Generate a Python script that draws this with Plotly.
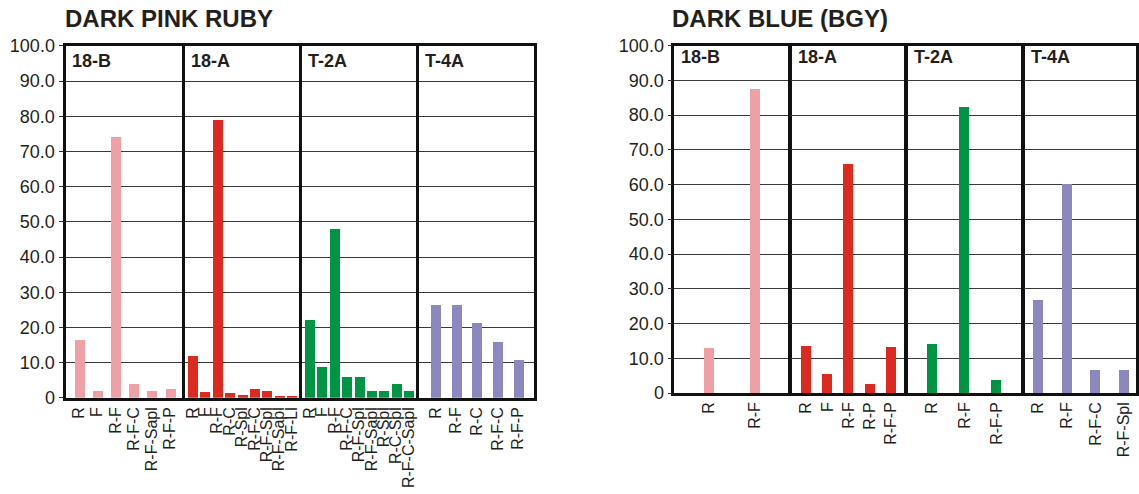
import plotly.graph_objects as go

W, H = 1139, 494

# ---------------- DATA ----------------
panel_names = ["18-B", "18-A", "T-2A", "T-4A"]
y_tick_vals = [0, 10, 20, 30, 40, 50, 60, 70, 80, 90, 100]
y_tick_text = ["0", "10.0", "20.0", "30.0", "40.0", "50.0", "60.0", "70.0", "80.0", "90.0", "100.0"]

# Left chart: DARK PINK RUBY
ruby_18B_cats = ["R", "F", "R-F", "R-F-C", "R-F-Sapl", "R-F-P"]
ruby_18B_vals = [16.5, 2.1, 74.1, 4.0, 2.1, 2.5]
ruby_18A_cats = ["R", "F", "R-F", "R-C", "R-Spl", "R-F-C", "R-F-Spl", "R-F-Sapl", "R-F-Ll"]
ruby_18A_vals = [11.9, 1.7, 79.0, 1.3, 0.9, 2.5, 1.9, 0.6, 0.6]
ruby_T2A_cats = ["R", "F", "R-F", "R-F-C", "R-F-Spl", "R-F-Sapl", "R-Spl", "R-C-Spl", "R-F-C-Sapl"]
ruby_T2A_vals = [22.3, 8.8, 48.0, 6.1, 6.1, 2.0, 2.0, 4.0, 2.0]
ruby_T4A_cats = ["R", "R-F", "R-C", "R-F-C", "R-F-P"]
ruby_T4A_vals = [26.5, 26.5, 21.4, 16.0, 10.7]

# Right chart: DARK BLUE (BGY)
blue_18B_cats = ["R", "R-F"]
blue_18B_vals = [13.1, 87.5]
blue_18A_cats = ["R", "F", "R-F", "R-P", "R-F-P"]
blue_18A_vals = [13.6, 5.5, 66.0, 2.7, 13.3]
blue_T2A_cats = ["R", "R-F", "R-F-P"]
blue_T2A_vals = [14.3, 82.5, 3.8]
blue_T4A_cats = ["R", "R-F", "R-F-C", "R-F-Spl"]
blue_T4A_vals = [26.8, 60.4, 6.7, 6.7]

# ---------------- STYLE / LAYOUT ----------------
panel_colors = ["#EF9FA6", "#DC2A21", "#009445", "#8D87BF"]
FONT = "Liberation Sans, Arial, Helvetica, sans-serif"

charts = [
    dict(
        title="DARK PINK RUBY", title_px=(63, 19),
        edges=[64, 183, 300, 417, 535], top=44.3, bottom=399.3, border=3,
        pads=[(0.74, 0.62), (0.63, 0.55), (0.65, 0.55), (0.83, 0.75)],
        label_y=61,
        data=[(ruby_18B_cats, ruby_18B_vals), (ruby_18A_cats, ruby_18A_vals),
              (ruby_T2A_cats, ruby_T2A_vals), (ruby_T4A_cats, ruby_T4A_vals)],
    ),
    dict(
        title="DARK BLUE (BGY)", title_px=(670, 18),
        edges=[673, 790, 906, 1023, 1137], top=44.3, bottom=394.3, border=2.6,
        pads=[(0.76, 0.73), (0.69, 0.63), (0.78, 0.79), (0.49, 0.41)],
        label_y=57,
        data=[(blue_18B_cats, blue_18B_vals), (blue_18A_cats, blue_18A_vals),
              (blue_T2A_cats, blue_T2A_vals), (blue_T4A_cats, blue_T4A_vals)],
    ),
]

BAR_PX = 10

fig = go.Figure()
layout = dict(
    width=W, height=H, autosize=False,
    margin=dict(l=0, r=0, t=0, b=0, autoexpand=False),
    paper_bgcolor="white", plot_bgcolor="white",
    showlegend=False, bargap=0,
    font=dict(family=FONT, color="#231F20"),
)
annotations = []

k = 0
for chart in charts:
    edges = chart["edges"]
    b = chart["border"]
    # axis lines are drawn just outside the domain; inset by half line width
    ydom = [1 - (chart["bottom"] - b / 2) / H, 1 - (chart["top"] + b / 2) / H]
    for p in range(4):
        k += 1
        sfx = "" if k == 1 else str(k)
        cats, vals = chart["data"][p]
        n = len(cats)
        padL, padR = chart["pads"][p]
        x0 = edges[p] + b / 2
        x1 = edges[p + 1] - b / 2
        rng = [-padL, n - 1 + padR]
        unit_px = (x1 - x0) / (rng[1] - rng[0])
        fig.add_trace(go.Bar(
            x=cats, y=vals,
            marker=dict(color=panel_colors[p], line=dict(width=0)),
            width=BAR_PX / unit_px,
            xaxis="x" + sfx, yaxis="y" + sfx,
            hoverinfo="x+y",
        ))
        first = (p == 0)
        layout["xaxis" + sfx] = dict(
            domain=[x0 / W, x1 / W],
            anchor="y" + sfx, type="category", range=rng, automargin=False,
            tickmode="array", tickvals=cats, ticktext=cats,
            showline=True, mirror=True, linecolor="#111", linewidth=b,
            showgrid=False, zeroline=False, ticks="",
            tickangle=-90, tickfont=dict(size=16, family=FONT, color="#231F20"),
            fixedrange=True,
        )
        layout["yaxis" + sfx] = dict(
            domain=ydom, anchor="x" + sfx, range=[0, 100], automargin=False,
            tickvals=y_tick_vals, ticktext=y_tick_text,
            showticklabels=first,
            ticks="outside" if first else "", ticklen=4, tickcolor="#333", tickwidth=1.3,
            tickfont=dict(size=18, family=FONT, color="#231F20"),
            showgrid=True, gridcolor="#3a3a3a", gridwidth=1.3,
            showline=True, mirror=True, linecolor="#111", linewidth=b,
            zeroline=False, fixedrange=True,
        )
        annotations.append(dict(
            text="<b>" + panel_names[p] + "</b>", xref="paper", yref="paper",
            x=(edges[p] + 6) / W, y=1 - chart["label_y"] / H,
            xanchor="left", yanchor="middle", showarrow=False,
            font=dict(size=18, family=FONT, color="#231F20"),
        ))
    tx, ty = chart["title_px"]
    annotations.append(dict(
        text="<b>" + chart["title"] + "</b>", xref="paper", yref="paper",
        x=tx / W, y=1 - ty / H, xanchor="left", yanchor="middle", showarrow=False,
        font=dict(size=24, family=FONT, color="#231F20"),
    ))

layout["annotations"] = annotations
fig.update_layout(**layout)
fig.write_html(
    "out.html",
    config={"displayModeBar": False},
    post_script="document.body.style.margin='0px';document.body.style.overflow='hidden';",
)
